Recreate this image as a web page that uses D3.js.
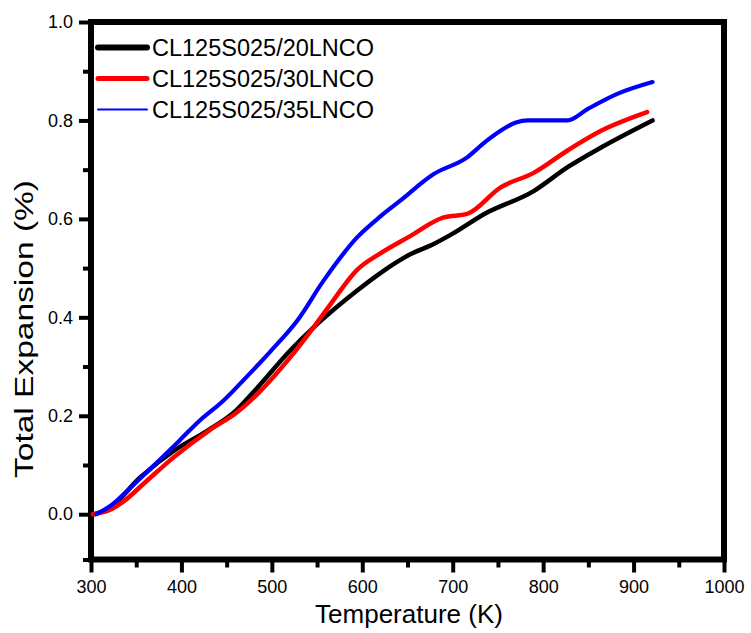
<!DOCTYPE html>
<html>
<head>
<meta charset="utf-8">
<script src="https://cdn.jsdelivr.net/npm/d3@7"></script>
<style>
  body { margin: 0; background: #fff; }
  svg { display: block; font-family: "Liberation Sans", Arial, sans-serif; }
</style>
</head>
<body>
<script>
// series: [temperature K, total expansion %]
const seriesNames = ["CL125S025/20LNCO", "CL125S025/30LNCO", "CL125S025/35LNCO"];
const seriesColors = ["#000000", "#ff0000", "#0000ff"];

const lnco20 = [[304,0.0],[320,0.012],[354,0.074],[395,0.133],[428,0.169],[460,0.21],[484,0.257],
  [520,0.332],[550,0.386],[594,0.454],[620,0.49],[653,0.528],[679,0.549],[700,0.57],[735,0.61],
  [790,0.657],[827,0.705],[864,0.745],[921,0.80]];
const lnco30 = [[302,0.0],[320,0.008],[336,0.026],[360,0.065],[391,0.115],[432,0.172],[460,0.205],
  [484,0.244],[520,0.318],[543,0.372],[565,0.427],[594,0.496],[620,0.53],[653,0.565],[690,0.603],
  [716,0.61],[753,0.664],[790,0.694],[827,0.739],[864,0.779],[915,0.817]];
const lnco35 = [[306,0.0],[320,0.015],[347,0.06],[370,0.1],[398,0.15],[420,0.19],[446,0.23],
  [470,0.275],[498,0.33],[528,0.393],[557,0.474],[594,0.562],[620,0.605],[642,0.637],[679,0.691],
  [716,0.725],[735,0.755],[753,0.779],[770,0.796],[783,0.80],[827,0.80],[849,0.823],[882,0.854],[921,0.878]];

const xTicks = [300,400,500,600,700,800,900,1000];
const xMinor = [350,450,550,650,750,850,950];
const yTicks = [0.0,0.2,0.4,0.6,0.8,1.0];
const yMinor = [0.1,0.3,0.5,0.7,0.9];

const W = 751, H = 633;
const svg = d3.select("body").append("svg").attr("width", W).attr("height", H);

const x = d3.scaleLinear().domain([300, 1000]).range([91, 724]);
const y = d3.scaleLinear().domain([-0.092, 1.0]).range([559.5, 22]);
const yBottom = y(y.domain()[0]);

/**
  style an axis group like the Origin plot
*/
function styleAxis(g){
  g.select(".domain").remove();
  g.selectAll(".tick line").attr("stroke", "#000").attr("stroke-width", 4);
  g.selectAll("text").attr("fill", "#000").style("font-size", "18px");
}

// minor ticks
svg.append("g").attr("transform", `translate(0,${yBottom})`)
  .call(d3.axisBottom(x).tickValues(xMinor).tickSize(8).tickFormat(""))
  .call(styleAxis);
svg.append("g").attr("transform", "translate(91,0)")
  .call(d3.axisLeft(y).tickValues(yMinor.concat([y.domain()[0]])).tickSize(8).tickFormat(""))
  .call(styleAxis);

// major ticks + labels
svg.append("g").attr("transform", `translate(0,${yBottom})`)
  .call(d3.axisBottom(x).tickValues(xTicks).tickSize(13).tickPadding(8).tickFormat(d3.format("d")))
  .call(styleAxis);
svg.append("g").attr("transform", "translate(91,0)")
  .call(d3.axisLeft(y).tickValues(yTicks).tickSize(12).tickPadding(6).tickFormat(d3.format(".1f")))
  .call(styleAxis);

// frame
svg.append("rect")
  .attr("x", x(300)).attr("y", y(1.0))
  .attr("width", x(1000) - x(300)).attr("height", yBottom - y(1.0))
  .attr("fill", "none").attr("stroke", "#000").attr("stroke-width", 6);

// curves
const line = d3.line().x(d => x(d[0])).y(d => y(d[1])).curve(d3.curveMonotoneX);
const allSeries = [lnco20, lnco30, lnco35];
const lineWidths = [4.5, 4.5, 4.2];

svg.append("g").selectAll("path")
  .data(allSeries)
  .join("path")
  .attr("d", line)
  .attr("fill", "none")
  .attr("stroke", (d, i) => seriesColors[i])
  .attr("stroke-width", (d, i) => lineWidths[i])
  .attr("stroke-linecap", "round")
  .attr("stroke-linejoin", "round");

// legend
const legendWidths = [6, 5, 2];
const legend = svg.append("g").selectAll("g")
  .data(seriesNames)
  .join("g")
  .attr("transform", (d, i) => `translate(98,${47.5 + i * 31})`);
legend.append("line")
  .attr("x1", 0).attr("x2", 49).attr("y1", 0).attr("y2", 0)
  .attr("stroke", (d, i) => seriesColors[i])
  .attr("stroke-width", (d, i) => legendWidths[i])
  .attr("stroke-linecap", "round");
legend.append("text")
  .attr("x", 54).attr("y", 8.5)
  .style("font-size", "23.5px")
  .attr("fill", "#000")
  .text(d => d);

// axis titles
svg.append("text")
  .attr("x", 409).attr("y", 623)
  .attr("text-anchor", "middle")
  .style("font-size", "25px")
  .attr("textLength", 188).attr("lengthAdjust", "spacingAndGlyphs")
  .text("Temperature (K)");

svg.append("text")
  .attr("transform", "translate(33,329) rotate(-90)")
  .attr("text-anchor", "middle")
  .style("font-size", "25px")
  .attr("textLength", 298).attr("lengthAdjust", "spacingAndGlyphs")
  .text("Total Expansion (%)");
</script>
</body>
</html>
